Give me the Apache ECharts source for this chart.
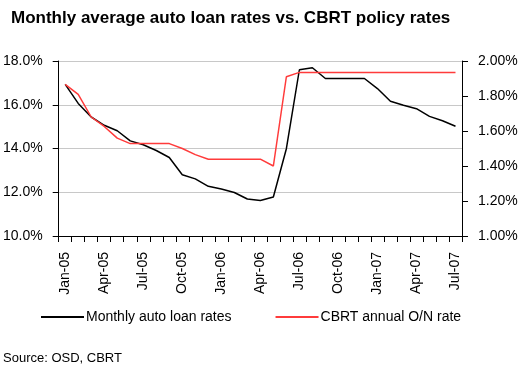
<!DOCTYPE html>
<html><head><meta charset="utf-8">
<script src="https://cdn.jsdelivr.net/npm/echarts@6/dist/echarts.min.js"></script>
<style>html,body{margin:0;padding:0;background:#fff}#c{width:525px;height:369px}</style>
</head><body><div id="c"></div>
<script>
const categories = ['Jan-05','Feb-05','Mar-05','Apr-05','May-05','Jun-05','Jul-05','Aug-05','Sep-05','Oct-05','Nov-05','Dec-05',
  'Jan-06','Feb-06','Mar-06','Apr-06','May-06','Jun-06','Jul-06','Aug-06','Sep-06','Oct-06','Nov-06','Dec-06',
  'Jan-07','Feb-07','Mar-07','Apr-07','May-07','Jun-07','Jul-07'];
const autoLoanRates = [16.93,16.06,15.44,15.06,14.81,14.35,14.17,13.91,13.59,12.80,12.61,12.27,
  12.15,11.99,11.69,11.62,11.78,13.99,17.60,17.69,17.20,17.20,17.20,17.20,
  16.74,16.16,15.98,15.82,15.47,15.27,15.02];
const cbrtRates = [1.866,1.809,1.680,1.626,1.559,1.528,1.528,1.528,1.528,1.500,1.465,1.439,
  1.439,1.439,1.439,1.439,1.400,1.910,1.935,1.935,1.935,1.935,1.935,1.935,
  1.935,1.935,1.935,1.935,1.935,1.935,1.935];
const leftTicks = {min:10, max:18, interval:2};
const rightTicks = {min:1, max:2, interval:0.2};

const font = 'Liberation Sans, Arial, sans-serif';
const chart = echarts.init(document.getElementById('c'), null, {renderer:'canvas'});
chart.setOption({
  animation:false,
  backgroundColor:'#fff',
  title:{text:'Monthly average auto loan rates vs. CBRT policy rates', left:6, top:5,
    textStyle:{fontFamily:font, fontSize:17, fontWeight:'bold', color:'#000'}},
  graphic:[{type:'text', left:3, top:352, style:{text:'Source: OSD, CBRT', font:'13px Liberation Sans, Arial, sans-serif', fill:'#000'}}],
  legend:{top:305, left:36, itemWidth:43, itemHeight:2, itemGap:44,
    textStyle:{fontFamily:font, fontSize:14, color:'#000', padding:[0,0,0,-3]},
    icon:'rect',
    data:[{name:'Monthly auto loan rates'},{name:'CBRT annual O/N rate'}]},
  grid:{left:58, right:63, top:61, bottom:133},
  xAxis:{type:'category', data:categories, boundaryGap:true,
    axisLine:{lineStyle:{color:'#000', width:1}},
    axisTick:{show:true, interval:0, length:6, lineStyle:{color:'#000'}},
    axisLabel:{interval:2, rotate:90, margin:16, fontFamily:font, fontSize:14, color:'#000'},
    splitLine:{show:false}},
  yAxis:[
    {type:'value', min:leftTicks.min, max:leftTicks.max, interval:leftTicks.interval,
     axisLine:{show:true, lineStyle:{color:'#000'}},
     axisTick:{show:true, length:6, lineStyle:{color:'#000'}},
     axisLabel:{margin:16, fontFamily:font, fontSize:14, color:'#000', formatter:v=>v.toFixed(1)+'%'},
     splitLine:{show:true, lineStyle:{color:'#c8c8c8', width:1.2}}},
    {type:'value', min:rightTicks.min, max:rightTicks.max, interval:rightTicks.interval, position:'right',
     axisLine:{show:true, lineStyle:{color:'#000'}},
     axisTick:{show:true, length:6, lineStyle:{color:'#000'}},
     axisLabel:{margin:16, fontFamily:font, fontSize:14, color:'#000', formatter:v=>v.toFixed(2)+'%'},
     splitLine:{show:false}}
  ],
  series:[
    {name:'Monthly auto loan rates', type:'line', yAxisIndex:0, data:autoLoanRates, symbol:'none',
     itemStyle:{color:'#000'}, lineStyle:{color:'#000', width:1.5}},
    {name:'CBRT annual O/N rate', type:'line', yAxisIndex:1, data:cbrtRates, symbol:'none',
     itemStyle:{color:'#ff3b3b'}, lineStyle:{color:'#ff3b3b', width:1.5}}
  ]
});
</script></body></html>
